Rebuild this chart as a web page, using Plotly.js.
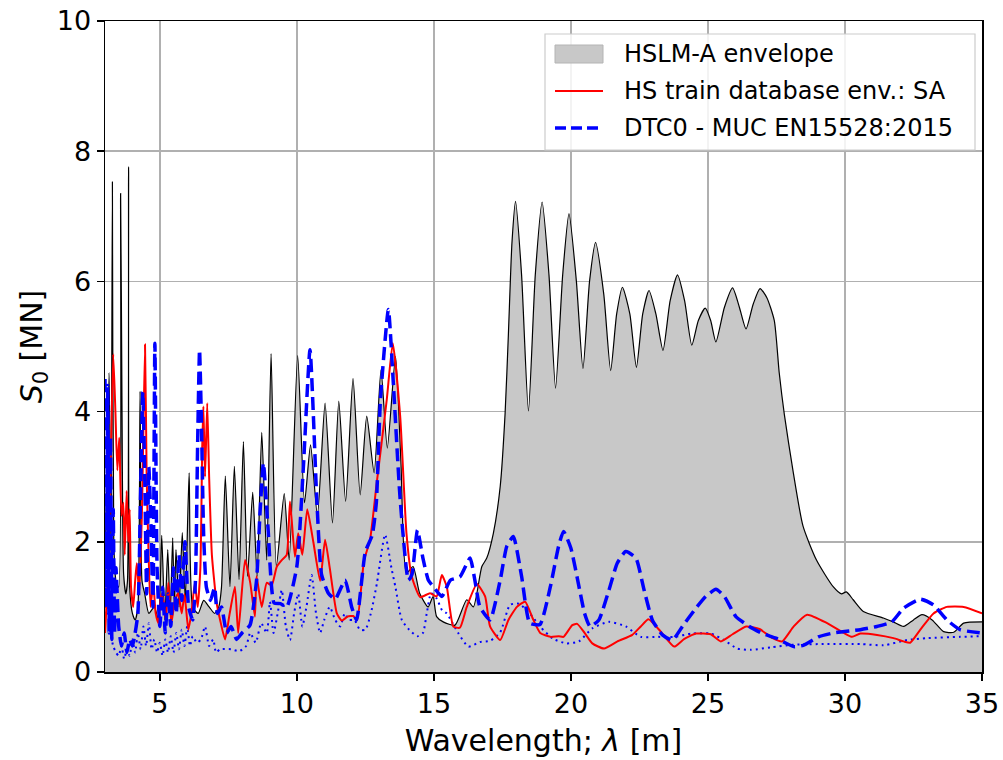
<!DOCTYPE html>
<html>
<head>
<meta charset="utf-8">
<script src="https://cdn.plot.ly/plotly-3.0.1.min.js"></script>
<style>html,body{margin:0;padding:0;background:#fff;}#chart{width:1003px;height:760px;}</style>
</head>
<body>
<div id="chart"></div>
<script>
// HSLM-A envelope (gray fill + black outline)
const envX = [3.0,3.15,3.22,3.27,3.32,3.4,3.5,3.57,3.62,3.68,3.76,3.82,3.86,3.9,4.0,4.1,4.2,4.28,4.35,4.45,4.6,4.8,4.95,5.07,5.18,5.29,5.38,5.47,5.53,5.59,5.7,5.82,5.93,6.07,6.2,6.4,6.6,6.8,7.0,7.15,7.25,7.39,7.56,7.72,7.89,8.05,8.2,8.39,8.55,8.72,8.9,9.06,9.25,9.54,9.72,10.03,10.28,10.5,10.75,11.03,11.3,11.53,11.78,12.05,12.31,12.55,12.82,13.07,13.3,13.6,13.8,14.0,14.24,14.48,14.79,14.97,15.1,15.34,15.77,16.2,16.44,16.75,16.93,17.17,17.42,17.6,17.72,17.85,17.98,18.2,18.45,18.7,18.95,19.2,19.44,19.7,19.93,20.2,20.44,20.68,20.9,21.2,21.45,21.67,21.88,22.15,22.39,22.62,22.85,23.1,23.36,23.62,23.89,24.15,24.41,24.65,24.9,25.1,25.29,25.6,25.9,26.15,26.39,26.65,26.9,27.15,27.42,27.6,27.79,28.1,28.47,28.96,29.57,29.87,30.05,30.3,30.67,31.4,31.76,32.14,32.5,32.81,33.18,33.6,33.97,34.33,35.0];
const envY = [1.5,4.6,1.8,7.53,2.0,1.4,1.3,7.35,4.1,1.5,1.2,1.4,7.76,1.3,0.9,0.8,1.0,4.31,1.4,1.2,0.9,1.0,0.8,2.1,0.8,1.88,0.9,2.06,1.0,1.88,1.0,2.14,1.1,3.06,1.0,0.9,1.1,1.0,0.9,1.0,1.3,3.01,1.31,3.16,1.42,3.54,1.47,2.76,1.47,3.68,1.72,4.89,1.62,2.74,1.72,4.86,2.6,3.49,2.4,4.13,2.29,4.16,2.62,4.51,2.72,3.93,3.06,4.64,3.44,4.85,3.2,1.52,1.62,1.21,1.0,1.16,0.85,0.77,0.72,1.11,1.0,1.62,1.75,2.13,2.85,3.98,5.2,6.6,7.23,6.1,4.01,6.1,7.22,6.1,4.36,6.1,7.04,6.0,4.66,6.0,6.6,5.8,4.63,5.5,5.91,5.5,4.68,5.5,5.86,5.5,4.94,5.7,6.1,5.7,5.02,5.4,5.59,5.4,5.07,5.6,5.9,5.6,5.27,5.65,5.89,5.75,5.4,4.6,3.95,3.1,2.24,1.72,1.31,1.2,1.23,1.11,0.93,0.83,0.77,0.70,0.8,0.88,0.8,0.62,0.61,0.75,0.77];

// HS train database envelope: SA (red)
const redX = [3.0,3.1,3.2,3.3,3.38,3.45,3.52,3.6,3.67,3.72,3.79,3.85,3.9,3.95,4.03,4.1,4.16,4.25,4.35,4.46,4.52,4.58,4.66,4.76,4.85,4.95,5.05,5.13,5.22,5.31,5.42,5.55,5.67,5.8,5.9,6.04,6.15,6.28,6.38,6.48,6.55,6.59,6.65,6.73,6.8,6.9,7.07,7.2,7.38,7.55,7.74,7.86,8.11,8.3,8.47,8.53,8.72,8.9,9.08,9.27,9.45,9.63,9.75,9.93,10.05,10.2,10.38,10.6,10.85,11.03,11.2,11.46,11.64,11.85,12.06,12.2,12.45,12.67,12.9,13.28,13.5,13.77,14.0,14.19,14.5,14.86,15.1,15.29,15.47,15.71,15.95,16.2,16.57,16.87,17.05,17.42,17.72,18.03,18.33,18.63,18.88,19.25,19.56,19.73,20.05,20.23,20.5,20.78,21.21,21.7,22.24,22.55,22.83,23.28,23.77,24.14,24.57,25.1,25.47,25.9,26.39,26.88,27.36,27.71,28.13,28.62,29.35,29.96,30.26,30.56,31.17,31.77,32.14,32.38,32.75,33.23,33.72,34.33,35.0];
const redY = [0.6,1.4,3.0,4.88,4.0,3.1,3.6,2.4,2.6,1.8,2.78,2.0,2.5,1.3,1.0,1.4,1.67,1.2,2.5,5.03,3.0,1.98,1.0,1.37,0.9,0.75,1.2,1.1,0.8,1.37,0.75,1.1,1.21,0.9,1.2,0.65,0.9,1.37,1.0,1.6,3.5,4.08,3.0,4.13,3.0,1.8,1.07,0.8,0.5,0.9,1.31,0.6,1.72,1.37,0.85,1.47,1.0,1.37,1.33,1.62,1.72,1.8,2.62,1.77,2.13,1.8,2.5,2.0,1.4,2.03,1.6,0.9,0.79,0.85,0.86,0.8,1.71,2.03,2.85,4.18,5.05,3.93,2.13,1.47,1.15,1.21,1.16,1.49,1.31,0.70,0.68,1.0,1.35,1.16,0.70,0.49,0.8,1.0,1.08,0.8,0.6,0.54,0.55,0.54,0.72,0.74,0.6,0.44,0.36,0.47,0.57,0.7,0.81,0.62,0.39,0.51,0.59,0.58,0.47,0.58,0.70,0.66,0.52,0.47,0.70,0.88,0.75,0.6,0.54,0.59,0.57,0.52,0.47,0.45,0.65,0.90,1.0,1.0,0.9];

// DTC0 - MUC EN15528:2015 (blue dashed)
const dtcX = [3.0,3.05,3.1,3.15,3.2,3.25,3.3,3.35,3.4,3.5,3.6,3.7,3.8,3.9,4.0,4.1,4.2,4.3,4.38,4.45,4.52,4.6,4.68,4.75,4.82,4.9,5.0,5.1,5.2,5.3,5.4,5.5,5.6,5.7,5.8,5.92,6.05,6.2,6.3,6.38,6.45,6.52,6.6,6.7,6.85,7.0,7.1,7.25,7.44,7.6,7.8,8.0,8.29,8.53,8.65,8.78,8.95,9.17,9.4,9.63,10.0,10.24,10.48,10.73,10.9,11.15,11.4,11.76,12.0,12.18,12.5,12.75,12.9,13.05,13.34,13.52,13.77,14.07,14.2,14.4,14.6,14.8,15.0,15.29,15.6,15.95,16.32,16.5,16.68,17.05,17.42,17.66,17.9,18.2,18.5,18.87,19.25,19.55,19.73,20.0,20.3,20.5,20.7,21.02,21.39,21.69,22.0,22.37,22.67,22.97,23.34,23.7,24.07,24.56,24.92,25.29,25.6,26.02,26.51,27.0,27.48,28.13,28.48,29.03,29.58,30.56,31.17,31.71,32.14,32.75,33.23,33.72,34.2,35.0];
const dtcY = [4.5,1.0,4.4,0.6,3.6,0.5,2.5,0.6,1.6,0.7,0.4,0.6,0.3,0.5,0.4,0.6,0.9,2.8,4.3,3.0,1.2,3.15,2.2,1.0,5.05,1.6,0.7,1.3,0.6,1.2,0.7,1.6,0.9,1.8,1.1,2.0,1.0,0.8,1.4,3.5,4.95,3.8,2.1,1.3,1.1,1.3,0.9,1.0,0.6,0.7,0.5,0.6,0.72,1.41,2.4,3.21,2.2,1.06,1.05,1.0,1.62,3.16,4.95,2.63,1.5,1.21,1.12,1.41,1.0,0.8,1.85,2.1,2.6,4.18,5.57,4.44,2.65,1.41,1.5,2.18,1.75,1.41,1.3,1.16,1.41,1.46,1.75,1.4,1.0,0.8,1.41,1.93,2.08,1.47,0.75,0.73,1.31,1.93,2.16,1.9,1.3,0.9,0.7,0.8,1.26,1.67,1.85,1.75,1.26,0.8,0.57,0.49,0.70,0.98,1.16,1.27,1.16,0.85,0.70,0.59,0.52,0.39,0.41,0.54,0.60,0.65,0.70,0.77,0.98,1.12,1.03,0.8,0.65,0.6];

// additional blue dotted curve
const dotX = [3.0,3.05,3.1,3.2,3.3,3.4,3.5,3.6,3.7,3.8,3.9,4.0,4.1,4.2,4.3,4.4,4.5,4.6,4.7,4.8,4.9,5.0,5.1,5.2,5.3,5.4,5.5,5.6,5.7,5.8,5.9,6.0,6.1,6.2,6.35,6.5,6.65,6.8,6.95,7.05,7.2,7.6,7.9,8.15,8.3,8.5,8.7,8.9,9.02,9.15,9.3,9.45,9.6,9.75,9.9,10.05,10.2,10.35,10.54,10.7,10.85,11.0,11.2,11.4,11.58,11.75,11.9,12.1,12.3,12.5,12.7,12.92,13.22,13.45,13.6,13.83,14.1,14.4,14.6,14.74,14.9,15.1,15.3,15.47,15.9,16.26,16.68,17.05,17.42,17.78,18.1,18.5,18.87,19.35,19.84,20.29,20.78,21.39,22.0,22.55,23.17,23.77,24.39,25.1,25.59,26.07,26.56,27.3,28.13,29.35,30.56,31.4,32.26,32.99,34.2,35.0];
const dotY = [0.8,1.5,0.9,0.6,0.4,0.3,0.25,0.4,0.2,0.35,0.25,0.5,0.3,0.6,0.35,0.7,0.4,0.75,0.35,0.5,0.3,0.45,0.25,0.5,0.3,0.55,0.3,0.6,0.35,0.65,0.4,0.7,0.4,0.55,0.45,0.5,0.7,0.4,0.5,0.3,0.35,0.35,0.32,0.4,0.6,0.45,0.75,0.6,1.08,0.6,0.9,1.26,0.7,0.49,0.9,1.2,0.7,1.0,1.49,0.9,0.6,0.8,1.0,0.8,0.7,0.9,0.8,0.8,0.65,0.65,0.9,1.36,2.11,1.6,1.3,0.8,0.65,0.55,0.6,0.9,1.21,1.13,0.95,0.9,0.59,0.39,0.46,0.48,0.61,1.03,1.05,0.9,0.70,0.51,0.44,0.47,0.67,0.77,0.70,0.54,0.54,0.54,0.59,0.59,0.49,0.36,0.34,0.38,0.42,0.43,0.43,0.41,0.49,0.52,0.54,0.55];

const xTicks = [5,10,15,20,25,30,35];
const yTicks = [0,2,4,6,8,10];
const legendLabels = ['HSLM-A envelope', 'HS train database env.: SA', 'DTC0 - MUC EN15528:2015'];

const FONT = 'DejaVu Sans, sans-serif';
const W = 1003, H = 760;
const M = {l: 105, r: 21, t: 21, b: 88};
const PW = W - M.l - M.r, PH = H - M.t - M.b;
const px = v => (v - M.l) / PW;       // pixel x -> paper x
const py = v => (H - M.b - v) / PH;   // pixel y -> paper y

const traces = [
  {x: envX, y: envY, type: 'scatter', mode: 'lines', fill: 'tozeroy', fillcolor: '#c8c8c8',
   line: {color: 'rgba(0,0,0,0)', width: 0, shape: 'spline', smoothing: 0.6}, name: legendLabels[0], hoverinfo: 'skip'},
  {x: envX, y: envY, type: 'scatter', mode: 'lines', line: {color: '#000000', width: 1.2, shape: 'spline', smoothing: 0.6},
   hoverinfo: 'skip'},
  {x: dotX, y: dotY, type: 'scatter', mode: 'lines', line: {color: '#0000ff', width: 2, dash: '2px,4px', shape: 'spline', smoothing: 0.6}},
  {x: redX, y: redY, type: 'scatter', mode: 'lines', line: {color: '#ff0000', width: 2, shape: 'spline', smoothing: 0.5},
   name: legendLabels[1]},
  {x: dtcX, y: dtcY, type: 'scatter', mode: 'lines', line: {color: '#0000ff', width: 3.5, dash: '13px,6px', shape: 'spline', smoothing: 0.5},
   name: legendLabels[2]}
];

// custom legend (box, symbols, labels) drawn in paper coordinates
const rowsY = [54, 91, 128];
const shapes = [
  {type: 'rect', xref: 'paper', yref: 'paper', x0: px(545), x1: px(975), y0: py(150), y1: py(34),
   fillcolor: 'rgba(255,255,255,0.85)', line: {color: '#cccccc', width: 1.2}, layer: 'above'},
  {type: 'rect', xref: 'paper', yref: 'paper', x0: px(555), x1: px(603), y0: py(rowsY[0] + 9), y1: py(rowsY[0] - 9),
   fillcolor: '#c8c8c8', line: {color: '#b4b4b4', width: 1}, layer: 'above'},
  {type: 'line', xref: 'paper', yref: 'paper', x0: px(555), x1: px(603), y0: py(rowsY[1]), y1: py(rowsY[1]),
   line: {color: '#ff0000', width: 2}, layer: 'above'},
  {type: 'line', xref: 'paper', yref: 'paper', x0: px(555), x1: px(603), y0: py(rowsY[2]), y1: py(rowsY[2]),
   line: {color: '#0000ff', width: 3.5, dash: '11px,5px'}, layer: 'above'}
];
const annotations = legendLabels.map((t, i) => ({
  xref: 'paper', yref: 'paper', x: px(622), y: py(rowsY[i]), xanchor: 'left', yanchor: 'middle',
  text: t, showarrow: false, font: {family: FONT, size: 24, color: '#000'}
}));

const axisCommon = {
  showline: true, mirror: true, linecolor: '#000', linewidth: 1.5,
  ticks: 'outside', ticklen: 7, tickwidth: 1.5, tickcolor: '#000',
  showgrid: true, gridcolor: '#b0b0b0', gridwidth: 1.5, zeroline: false,
  tickfont: {family: FONT, size: 27, color: '#000'}, automargin: false
};

const layout = {
  width: W, height: H,
  margin: M,
  paper_bgcolor: '#fff', plot_bgcolor: '#fff',
  font: {family: FONT, color: '#000'},
  showlegend: false,
  xaxis: Object.assign({}, axisCommon, {range: [3, 35], tickvals: xTicks, ticktext: xTicks.map(String),
    title: {text: 'Wavelength; <i>λ</i> [m]', font: {family: FONT, size: 30}, standoff: 12}}),
  yaxis: Object.assign({}, axisCommon, {range: [0, 10], tickvals: yTicks, ticktext: yTicks.map(String),
    title: {text: '<i>S</i><sub>0</sub> [MN]', font: {family: FONT, size: 30}, standoff: 5}}),
  shapes: shapes,
  annotations: annotations
};

Plotly.newPlot('chart', traces, layout, {staticPlot: true, displayModeBar: false});
</script>
</body>
</html>
